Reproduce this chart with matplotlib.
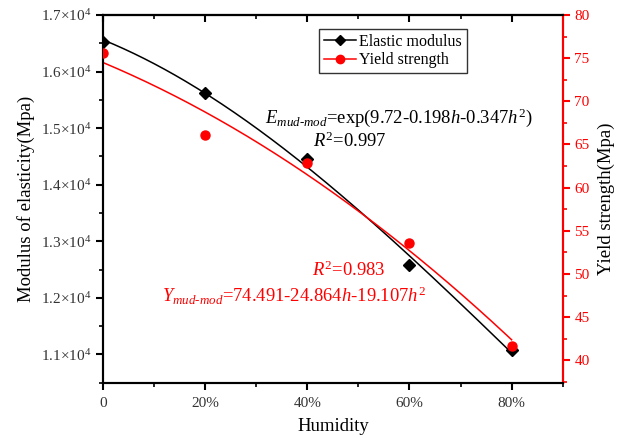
import matplotlib
matplotlib.use("Agg")
import matplotlib.pyplot as plt
import numpy as np
from matplotlib.lines import Line2D
from matplotlib.ticker import MultipleLocator, FuncFormatter

# humidity levels (%) and measured values
humidity = [0, 20, 40, 60, 80]
elastic_modulus = [16530, 15625, 14446, 12575, 11083]
yield_strength = [75.63, 66.09, 62.8, 53.53, 41.62]

# fitted yield strength curve coefficients (h as a fraction)
y_coef = [74.491, -24.864, -19.107]

plt.rcParams['font.family'] = ['Liberation Serif', 'DejaVu Serif']
plt.rcParams['mathtext.fontset'] = 'custom'
plt.rcParams['mathtext.rm'] = 'Liberation Serif'
plt.rcParams['mathtext.it'] = 'Liberation Serif:italic'
plt.rcParams['mathtext.bf'] = 'Liberation Serif:bold'

fig = plt.figure(figsize=(6.25, 4.38), dpi=100)
ax = fig.add_axes([0.1648, 0.1263, 0.7355, 0.8395])
ax2 = ax.twinx()

h = np.array(humidity) / 100.0
hh = np.linspace(0, 0.8, 200)

# exponential fit of modulus (quadratic in log space)
e_fit = np.polyfit(h, np.log(elastic_modulus), 2)
ax.plot(hh * 100, np.exp(np.polyval(e_fit, hh)), color='black', lw=1.1, zorder=2)
ax.plot(humidity, elastic_modulus, linestyle='none', marker='D', ms=6,
        color='black', zorder=3)

ax2.plot(hh * 100, y_coef[0] + y_coef[1] * hh + y_coef[2] * hh ** 2,
         color='red', lw=1.1, zorder=2)
ax2.plot(humidity, yield_strength, linestyle='none', marker='o', ms=6.5,
         color='red', zorder=3)

ax.set_xlim(0, 90)
ax.set_ylim(10500, 17000)
ax2.set_ylim(37.4, 80)

ax.set_xticks([0, 20, 40, 60, 80])
ax.set_xticklabels(['0', '20%', '40%', '60%', '80%'])
ax.xaxis.set_minor_locator(MultipleLocator(10))
ax.yaxis.set_major_locator(MultipleLocator(1000))
ax.yaxis.set_minor_locator(MultipleLocator(500))
ax.yaxis.set_major_formatter(FuncFormatter(
    lambda v, p: f"{v / 1e4:.1f}" + r"$\times$10$^{4}$"))

ax2.yaxis.set_major_locator(MultipleLocator(5))
ax2.yaxis.set_minor_locator(MultipleLocator(2.5))

for s in ax.spines.values():
    s.set_linewidth(1.5)
for s in ax2.spines.values():
    s.set_linewidth(1.5)
ax2.spines['right'].set_color('red')

ax.tick_params(which='major', direction='out', length=5, width=1.5,
               labelsize=11, colors='black', labelcolor='#333333')
ax.tick_params(which='minor', direction='out', length=3, width=1.2)
ax.tick_params(axis='x', pad=5)
ax2.tick_params(which='major', direction='out', length=5, width=1.5,
                labelsize=11, colors='red')
ax2.tick_params(which='minor', direction='out', length=3, width=1.2, colors='red')

# inward ticks along the top edge
top = ax.secondary_xaxis('top')
top.set_xticks([0, 20, 40, 60, 80])
top.xaxis.set_minor_locator(MultipleLocator(10))
top.tick_params(which='major', direction='in', length=5, width=1.5, labeltop=False)
top.tick_params(which='minor', direction='in', length=3, width=1.2)
top.spines['top'].set_linewidth(1.5)

ax.set_xlabel('Humidity', fontsize=13.5, labelpad=6)
ax.set_ylabel('Modulus of elasticity(Mpa)', fontsize=13.5, labelpad=4)
ax2.set_ylabel('Yield strength(Mpa)', fontsize=13.5, labelpad=6)

ax.text(0.352, 0.707, r"$E_{mud\text{-}mod}$=exp(9.72-0.198$h$-0.347$h^2$)",
        transform=ax.transAxes, fontsize=13.4, va='baseline', color='black')
ax.text(0.457, 0.642, r"$R^2$=0.997", transform=ax.transAxes,
        fontsize=13.4, va='baseline', color='black')
ax.text(0.455, 0.291, r"$R^2$=0.983", transform=ax.transAxes,
        fontsize=13.4, va='baseline', color='red')
ax.text(0.128, 0.219, r"$Y_{mud\text{-}mod}$=74.491-24.864$h$-19.107$h^2$",
        transform=ax.transAxes, fontsize=13.4, va='baseline', color='red')

handles = [
    Line2D([], [], color='black', lw=1.1, marker='D', ms=5),
    Line2D([], [], color='red', lw=1.1, marker='o', ms=6),
]
leg = ax2.legend(handles, ['Elastic modulus', 'Yield strength'],
                 loc='upper left', bbox_to_anchor=(0.47, 0.962),
                 borderaxespad=0, fontsize=11.5, frameon=True, fancybox=False,
                 edgecolor='black', handlelength=2.0, handletextpad=0.2,
                 borderpad=0.3, labelspacing=0.15)
leg.get_frame().set_linewidth(1.0)

fig.savefig('out.png', dpi=100)
